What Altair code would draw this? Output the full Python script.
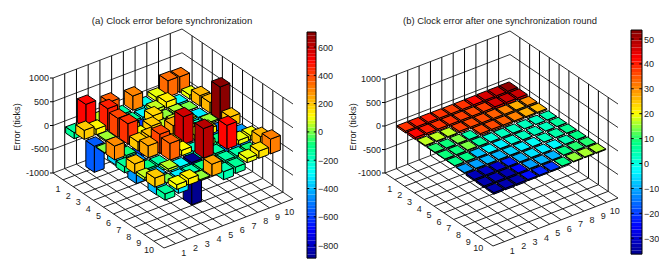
import altair as alt

TITLE_A = "(a) Clock error before synchronization"
TITLE_B = "(b) Clock error after one synchronization round"
Z_LABEL = "Error (ticks)"
Z_TICKS = [-1000, -500, 0, 500, 1000]
GRID_TICKS = list(range(1, 11))
CB_TICKS_A = [600, 400, 200, 0, -200, -400, -600, -800]
CB_TICKS_B = [50, 40, 30, 20, 10, 0, -10, -20, -30]
CB_RANGE_A = [-892, 706]
CB_RANGE_B = [-36.4, 53.6]
JET = ["#00008f", "#0000ff", "#00ffff", "#00ff80", "#ffff00", "#ff0000", "#800000"]
JET_F = [0, 1 / 8, 3 / 8, 1 / 2, 5 / 8, 7 / 8, 1]

ERR_BEFORE = [
    [-130, 500, 60, 360, -150, 300, -260, 90, 340, 330],
    [190, 120, 460, 40, -130, -300, 60, 130, -300, 90],
    [-550, 30, 400, 150, -600, 170, 20, 40, 0, 220],
    [10, -350, 430, 100, 190, 60, 80, 40, -320, 220],
    [290, -80, 190, 210, 90, 250, 140, -200, 30, 690],
    [-130, -450, 250, 400, 120, 580, 100, 130, -500, 200],
    [200, -100, -150, 350, 110, -200, 100, -100, -100, -450],
    [60, -400, 50, -300, -892, 620, -150, 500, 90, 100],
    [190, 0, -320, -170, -90, -180, -150, -160, -80, 220],
    [-130, 100, 130, 20, 250, -170, -130, 90, 150, 310],
]
ERR_AFTER = [
    [38, 40, 40, 38, 37, 38, 42, 46, 47, 52],
    [42, 40, 38, 38, 37, 36, 37, 46, 47, 47],
    [17, 17, 17, 37, 36, 36, 34, 31, 27, 30],
    [10, 9, 14, 5, 36, 36, 34, 31, 27, 26],
    [9, 9, 14, 6, 1, 3, 3, 3, 3, 4],
    [8, 8, -8, -3, -4, 1, 3, 3, 3, 6],
    [-11, -11, -9, -9, -6, -4, -2, 3, 5, 7],
    [-32, -31, -30, -22, -9, -5, -4, -3, 4, 8],
    [-33, -32, -33, -25, -11, -9, -9, 8, 10, 10],
    [-33, -33, -33, -24, -22, -20, 8, 15, 16, 16],
]

W_A, W_CB_A, W_B, W_CB_B, H = 299, 9, 315, 11, 254
FONT = "Liberation Sans"
TXT = "#1a1a1a"
PROJ = dict(type="identity", scale=1, translate=[0, 0])


def jet_stops(cb_range):
    return [cb_range[0] + (cb_range[1] - cb_range[0]) * f for f in JET_F]


def poly(points, **props):
    pts = [list(p) for p in points]
    return {"type": "Feature", "properties": props,
            "geometry": {"type": "Polygon", "coordinates": [pts + [pts[0]]]}}


def seg(p, q, **props):
    return {"type": "Feature", "properties": props,
            "geometry": {"type": "LineString", "coordinates": [list(p), list(q)]}}


def panel(grid, width, title, title_size, cb_range, left, bottom, back, top_z, ox, label_x, title_x):
    ea = ((bottom[0] - left[0]) / 11, (bottom[1] - left[1]) / 11)
    eb = ((back[0] - left[0]) / 11, (back[1] - left[1]) / 11)
    kz = top_z / 2000

    def P(a, b, z):
        return (left[0] + a * ea[0] + b * eb[0] - ox,
                left[1] + a * ea[1] + b * eb[1] - (z + 1000) * kz)

    lines = []
    for t in Z_TICKS:
        lines.append(seg(P(0, 0, t), P(0, 11, t), k="w"))
        lines.append(seg(P(0, 11, t), P(11, 11, t), k="w"))
    for t in GRID_TICKS:
        lines.append(seg(P(0, t, -1000), P(0, t, 1000), k="v"))
        lines.append(seg(P(t, 11, -1000), P(t, 11, 1000), k="v"))
        lines.append(seg(P(t, 0, -1000), P(t, 11, -1000), k="f"))
        lines.append(seg(P(0, t, -1000), P(11, t, -1000), k="f"))
    lines.append(seg(P(0, 0, -1000), P(11, 0, -1000), k="f"))
    lines.append(seg(P(11, 0, -1000), P(11, 11, -1000), k="f"))
    lines.append(seg(P(0, 0, -1000), P(0, 0, 1000), k="v"))
    for t in Z_TICKS:
        p = P(0, 0, t)
        lines.append(seg(p, (p[0] - 3, p[1]), k="v"))

    faces = []
    hw = 0.42
    for a in range(1, 11):
        for b in range(10, 0, -1):
            v = grid[a - 1][b - 1]
            hi, lo = max(v, 0), min(v, 0)
            a0, a1, b0, b1 = a - hw, a + hw, b - hw, b + hw
            faces.append(poly([P(a1, b0, lo), P(a1, b1, lo), P(a1, b1, hi), P(a1, b0, hi)], v=v))
            faces.append(poly([P(a0, b0, lo), P(a1, b0, lo), P(a1, b0, hi), P(a0, b0, hi)], v=v))
            faces.append(poly([P(a0, b0, hi), P(a1, b0, hi), P(a1, b1, hi), P(a0, b1, hi)], v=v))

    center = [{"lon": title_x - ox, "lat": 12.5, "t": title, "s": title_size, "ang": 0},
              {"lon": label_x - ox, "lat": 119, "t": Z_LABEL, "s": 9.2, "ang": 270}]
    right = []
    for t in Z_TICKS:
        p = P(0, 0, t)
        right.append({"lon": p[0] - 4, "lat": p[1], "t": str(t), "s": 9})
    for t in GRID_TICKS:
        p = P(t, 0, -1000)
        center.append({"lon": p[0] - 5, "lat": p[1] + 9, "t": str(t), "s": 9, "ang": 0})
        p = P(11, t, -1000)
        center.append({"lon": p[0] + 8, "lat": p[1] + 9, "t": str(t), "s": 9, "ang": 0})

    wall = alt.Chart(alt.Data(values=lines)).mark_geoshape(filled=False, strokeWidth=1).encode(
        stroke=alt.Stroke("properties.k:N", legend=None,
                          scale=alt.Scale(domain=["w", "v", "f"], range=["#333333", "#000000", "#222222"]))
    ).project(**PROJ)
    bars = alt.Chart(alt.Data(values=faces)).mark_geoshape(stroke="#000000", strokeWidth=1, opacity=1).encode(
        fill=alt.Fill("properties.v:Q", legend=None,
                      scale=alt.Scale(domain=jet_stops(cb_range), range=JET, clamp=True, interpolate="rgb"))
    ).project(**PROJ)
    t_center = alt.Chart(alt.Data(values=center)).mark_text(
        font=FONT, color=TXT, baseline="middle", align="center").encode(
        longitude="lon:Q", latitude="lat:Q", text="t:N",
        size=alt.Size("s:Q", scale=None), angle=alt.Angle("ang:Q", scale=None)
    ).project(**PROJ)
    t_right = alt.Chart(alt.Data(values=right)).mark_text(
        font=FONT, color=TXT, baseline="middle", align="right").encode(
        longitude="lon:Q", latitude="lat:Q", text="t:N",
        size=alt.Size("s:Q", scale=None)
    ).project(**PROJ)
    return alt.layer(wall, bars, t_center, t_right).resolve_scale(fill="independent", stroke="independent").properties(width=width, height=H)


def colorbar(cb_range, ticks, width, y_top_val, y_bot_val):
    n = 64
    step = (cb_range[1] - cb_range[0]) / n
    rows = [{"lo": cb_range[0] + i * step, "hi": cb_range[0] + (i + 1) * step,
             "c": cb_range[0] + (i + 0.5) * step, "x0": 0, "x1": 1} for i in range(n)]
    y = alt.Y("lo:Q", scale=alt.Scale(domain=[y_bot_val, y_top_val], nice=False, zero=False),
              axis=alt.Axis(values=ticks, title=None, grid=False, domain=False, tickSize=0,
                            labelFont=FONT, labelFontSize=9, labelColor=TXT, labelPadding=1.5, orient="right"))
    x = alt.X("x0:Q", scale=alt.Scale(domain=[0, 1], nice=False), axis=None)
    rect = alt.Chart(alt.Data(values=rows)).mark_rect().encode(
        x=x, x2="x1:Q", y=y, y2="hi:Q",
        fill=alt.Fill("c:Q", legend=None, scale=alt.Scale(domain=jet_stops(cb_range), range=JET, interpolate="rgb")))
    frame = alt.Chart(alt.Data(values=[{"lo": cb_range[0], "hi": cb_range[1], "x0": 0, "x1": 1}])).mark_rect(
        fill=None, stroke="#000000", strokeWidth=1).encode(x=x, x2="x1:Q", y=y, y2="hi:Q")
    tick_rows = [{"lo": t, "x0": 0, "x1": 0.25} for t in ticks] + [{"lo": t, "x0": 0.75, "x1": 1} for t in ticks]
    tk = alt.Chart(alt.Data(values=tick_rows)).mark_rule(color="#000000", strokeWidth=1).encode(x=x, x2="x1:Q", y=y)
    return alt.layer(rect, frame, tk).properties(width=width, height=H)


OX_A, OX_B = 0, W_A + W_CB_A
panel_a = panel(ERR_BEFORE, W_A, TITLE_A, 9.6, CB_RANGE_A, (45, 165), (156, 240), (174, 116), 95, OX_A, 9, 164)
panel_b = panel(ERR_AFTER, W_B, TITLE_B, 9.4, CB_RANGE_B, (377, 165), (485, 238), (502, 117), 94, OX_B, 345, 492)

px_a = 28.3 / 200
cb_a = colorbar(CB_RANGE_A, CB_TICKS_A, W_CB_A, 600 + 39 / px_a, 600 - 215 / px_a)
px_b = 24.9 / 10
cb_b = colorbar(CB_RANGE_B, CB_TICKS_B, W_CB_B, 50 + 31 / px_b, 50 - 223 / px_b)

chart = alt.hconcat(panel_a, cb_a, panel_b, cb_b, spacing=0, bounds="flush", padding=0).resolve_scale(
    fill="independent", y="independent", x="independent").configure_view(stroke=None)
chart.save("out.html", embed_options={"renderer": "svg", "actions": False})
